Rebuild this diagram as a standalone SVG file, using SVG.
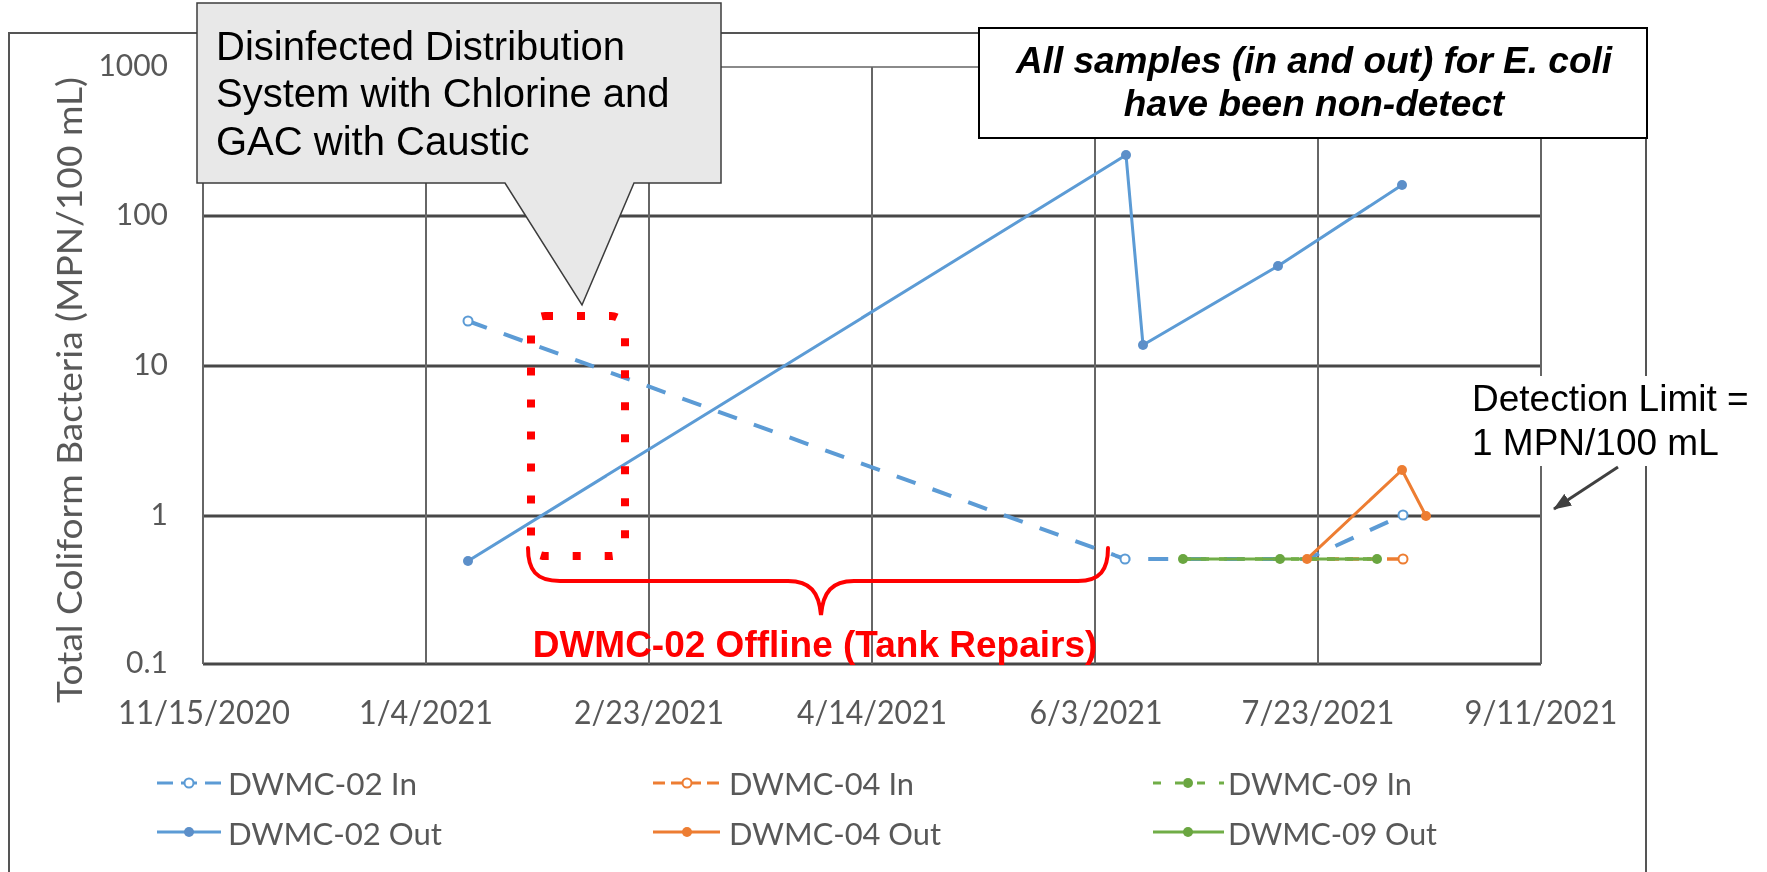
<svg xmlns="http://www.w3.org/2000/svg" width="1767" height="872" viewBox="0 0 1767 872">
  <defs>
    <filter id="soft" x="-2%" y="-2%" width="104%" height="104%">
      <feGaussianBlur stdDeviation="0.7"/>
    </filter>
    <marker id="arrowhead" viewBox="0 0 18 14" refX="17" refY="7" markerWidth="18" markerHeight="14" markerUnits="userSpaceOnUse" orient="auto">
      <path d="M0,0 L18,7 L0,14 Z" fill="#404040"/>
    </marker>
  </defs>
  <style>
    .frame { fill: none; stroke: #555555; stroke-width: 2; }
    .grid-h { stroke: #474747; stroke-width: 2.8; }
    .grid-top { stroke: #8a8a8a; stroke-width: 2; }
    .grid-v { stroke: #666666; stroke-width: 2; }
    .tick { font-family: Lato, "Open Sans", sans-serif; font-size: 32px; fill: #595959; }
    .ytick { font-family: Lato, "Open Sans", sans-serif; font-size: 30px; fill: #595959; text-anchor: end; }
    .axis-title { font-family: Lato, "Open Sans", sans-serif; font-size: 35px; fill: #595959; text-anchor: middle; }
    .legend-text { font-family: Lato, "Open Sans", sans-serif; font-size: 31px; fill: #595959; }
    .series { fill: none; stroke-width: 3; stroke-linejoin: round; }
    .dash-blue { stroke-dasharray: 20 18; stroke-width: 4; }
    .dash-orange { stroke-dasharray: 12 8; stroke-width: 3.5; }
    .dash-green { stroke-dasharray: 8 10; stroke-width: 3.5; }
    .blue { stroke: #5b9bd5; }
    .orange { stroke: #ed7d31; }
    .green { stroke: #70ad47; }
    .dot-blue { fill: #5b8fc9; }
    .dot-orange { fill: #ed7d31; }
    .dot-green { fill: #6aa641; }
    .hollow { fill: #ffffff; stroke-width: 2; }
    .note { font-family: "Liberation Sans", Arial, sans-serif; fill: #000000; }
    .callout-shape { fill: #e8e8e8; stroke: #3c3c3c; stroke-width: 1.5; }
    .flag { fill: none; stroke: #ff0000; stroke-width: 4; stroke-linecap: round; }
  </style>

  <rect x="0" y="0" width="1767" height="872" fill="#ffffff"/>

  <!-- chart frame -->
  <rect class="frame" x="9" y="33" width="1637" height="870"/>

  <g id="chart" filter="url(#soft)">
    <!-- plot grid (log scale 0.1 .. 1000) -->
    <g id="grid">
      <line class="grid-top" x1="203" y1="67" x2="1541" y2="67"/>
      <line class="grid-h" x1="203" y1="216" x2="1541" y2="216"/>
      <line class="grid-h" x1="203" y1="366" x2="1541" y2="366"/>
      <line class="grid-h" x1="203" y1="516" x2="1541" y2="516"/>
      <line class="grid-h" x1="203" y1="664" x2="1541" y2="664"/>
      <line class="grid-v" x1="203" y1="67" x2="203" y2="664"/>
      <line class="grid-v" x1="426" y1="67" x2="426" y2="664"/>
      <line class="grid-v" x1="649" y1="67" x2="649" y2="664"/>
      <line class="grid-v" x1="872" y1="67" x2="872" y2="664"/>
      <line class="grid-v" x1="1095" y1="67" x2="1095" y2="664"/>
      <line class="grid-v" x1="1318" y1="67" x2="1318" y2="664"/>
      <line class="grid-v" x1="1541" y1="67" x2="1541" y2="664"/>
    </g>

    <!-- axis labels -->
    <g id="y-axis">
      <text class="ytick" x="168" y="76">1000</text>
      <text class="ytick" x="168" y="225">100</text>
      <text class="ytick" x="168" y="375">10</text>
      <text class="ytick" x="168" y="525">1</text>
      <text class="ytick" x="168" y="673">0.1</text>
      <text class="axis-title" transform="translate(82,390) rotate(-90)" textLength="626" lengthAdjust="spacingAndGlyphs">Total Coliform Bacteria (MPN/100 mL)</text>
    </g>
    <g id="x-axis" text-anchor="middle">
      <text class="tick" x="204" y="724" textLength="172" lengthAdjust="spacingAndGlyphs">11/15/2020</text>
      <text class="tick" x="426" y="724" textLength="134" lengthAdjust="spacingAndGlyphs">1/4/2021</text>
      <text class="tick" x="649" y="724" textLength="150" lengthAdjust="spacingAndGlyphs">2/23/2021</text>
      <text class="tick" x="872" y="724" textLength="150" lengthAdjust="spacingAndGlyphs">4/14/2021</text>
      <text class="tick" x="1096" y="724" textLength="133" lengthAdjust="spacingAndGlyphs">6/3/2021</text>
      <text class="tick" x="1318" y="724" textLength="153" lengthAdjust="spacingAndGlyphs">7/23/2021</text>
      <text class="tick" x="1541" y="724" textLength="153" lengthAdjust="spacingAndGlyphs">9/11/2021</text>
    </g>

    <!-- data series -->
    <g id="series-dwmc02-in">
      <polyline class="series blue dash-blue" points="468,321 1125,559 1307,559 1403,515"/>
      <circle class="hollow blue" cx="468" cy="321" r="4.5"/>
      <circle class="hollow blue" cx="1125" cy="559" r="4.5"/>
      <circle class="hollow blue" cx="1403" cy="515" r="4.5"/>
    </g>
    <g id="series-dwmc04-in">
      <polyline class="series orange dash-orange" points="1307,559 1403,559"/>
      <circle class="hollow orange" cx="1403" cy="559" r="4.5"/>
    </g>
    <g id="series-dwmc09-in">
      <polyline class="series green dash-green" points="1183,559 1280,559 1377,559"/>
    </g>
    <g id="series-dwmc09-out">
      <polyline class="series green" points="1183,559 1280,559 1377,559"/>
      <circle class="dot-green" cx="1183" cy="559" r="5"/>
      <circle class="dot-green" cx="1280" cy="559" r="5"/>
      <circle class="dot-green" cx="1377" cy="559" r="5"/>
    </g>
    <g id="series-dwmc02-out">
      <polyline class="series blue" points="468,561 1126,155 1143,345 1278,266 1402,185"/>
      <circle class="dot-blue" cx="468" cy="561" r="5"/>
      <circle class="dot-blue" cx="1126" cy="155" r="5"/>
      <circle class="dot-blue" cx="1143" cy="345" r="5"/>
      <circle class="dot-blue" cx="1278" cy="266" r="5"/>
      <circle class="dot-blue" cx="1402" cy="185" r="5"/>
    </g>
    <g id="series-dwmc04-out">
      <polyline class="series orange" points="1307,559 1402,470 1426,516"/>
      <circle class="dot-orange" cx="1307" cy="559" r="5"/>
      <circle class="dot-orange" cx="1402" cy="470" r="5"/>
      <circle class="dot-orange" cx="1426" cy="516" r="5"/>
    </g>

    <!-- legend -->
    <g id="legend">
      <g id="legend-dwmc02-in">
        <line class="series blue" x1="157" y1="783" x2="221" y2="783" stroke-dasharray="16 8" stroke-width="4"/>
        <circle class="hollow blue" cx="189" cy="783" r="4.5"/>
        <text class="legend-text" x="228" y="795" textLength="189" lengthAdjust="spacingAndGlyphs">DWMC-02 In</text>
      </g>
      <g id="legend-dwmc02-out">
        <line class="series blue" x1="157" y1="832" x2="221" y2="832"/>
        <circle class="dot-blue" cx="189" cy="832" r="5"/>
        <text class="legend-text" x="228" y="845" textLength="214" lengthAdjust="spacingAndGlyphs">DWMC-02 Out</text>
      </g>
      <g id="legend-dwmc04-in">
        <line class="series orange" x1="653" y1="783" x2="720" y2="783" stroke-dasharray="12 6" stroke-width="3.5"/>
        <circle class="hollow orange" cx="687" cy="783" r="4.5"/>
        <text class="legend-text" x="729" y="795" textLength="185" lengthAdjust="spacingAndGlyphs">DWMC-04 In</text>
      </g>
      <g id="legend-dwmc04-out">
        <line class="series orange" x1="653" y1="832" x2="720" y2="832"/>
        <circle class="dot-orange" cx="687" cy="832" r="5"/>
        <text class="legend-text" x="729" y="845" textLength="212" lengthAdjust="spacingAndGlyphs">DWMC-04 Out</text>
      </g>
      <g id="legend-dwmc09-in">
        <line class="series green" x1="1153" y1="783" x2="1224" y2="783" stroke-dasharray="8 14" stroke-width="3.5"/>
        <circle class="dot-green" cx="1188" cy="783" r="5"/>
        <text class="legend-text" x="1228" y="795" textLength="184" lengthAdjust="spacingAndGlyphs">DWMC-09 In</text>
      </g>
      <g id="legend-dwmc09-out">
        <line class="series green" x1="1153" y1="832" x2="1224" y2="832"/>
        <circle class="dot-green" cx="1188" cy="832" r="5"/>
        <text class="legend-text" x="1228" y="845" textLength="209" lengthAdjust="spacingAndGlyphs">DWMC-09 Out</text>
      </g>
    </g>
  </g>

  <!-- treatment callout -->
  <g id="callout-treatment">
    <path class="callout-shape" d="M197,3 H721 V183 H634 L582,305 L505,183 H197 Z"/>
    <text class="note" font-size="40" x="216" y="60">Disinfected Distribution</text>
    <text class="note" font-size="40" x="216" y="107">System with Chlorine and</text>
    <text class="note" font-size="40" x="216" y="155">GAC with Caustic</text>
  </g>

  <!-- E. coli note -->
  <g id="note-ecoli">
    <rect x="979" y="28" width="668" height="110" fill="#ffffff" stroke="#000000" stroke-width="2"/>
    <text class="note" font-size="37" font-weight="bold" font-style="italic" text-anchor="middle" x="1314" y="73">All samples (in and out) for E. coli</text>
    <text class="note" font-size="37" font-weight="bold" font-style="italic" text-anchor="middle" x="1314" y="116">have been non-detect</text>
  </g>

  <!-- detection limit label -->
  <g id="note-detection">
    <rect x="1466" y="376" width="301" height="90" fill="#ffffff"/>
    <text class="note" font-size="37" x="1472" y="411">Detection Limit =</text>
    <text class="note" font-size="37" x="1472" y="455">1 MPN/100 mL</text>
  </g>

  <g id="connectors">
    <line x1="1618" y1="467" x2="1554" y2="509" stroke="#404040" stroke-width="3" marker-end="url(#arrowhead)"/>
  </g>

  <!-- offline period highlight -->
  <g id="offline-marker">
    <rect x="531" y="316" width="94" height="240" rx="14" fill="none" stroke="#ff0000" stroke-width="8" stroke-dasharray="8 24"/>
    <path class="flag" d="M528,548 C528,570 536,581 560,581 L788,581 C810,581 819,592 821,615 C823,592 832,581 854,581 L1078,581 C1100,581 1108,570 1108,548"/>
    <text font-family="'Liberation Sans', Arial, sans-serif" font-size="37" font-weight="bold" fill="#ff0000" text-anchor="middle" x="815" y="657">DWMC-02 Offline (Tank Repairs)</text>
  </g>
</svg>
